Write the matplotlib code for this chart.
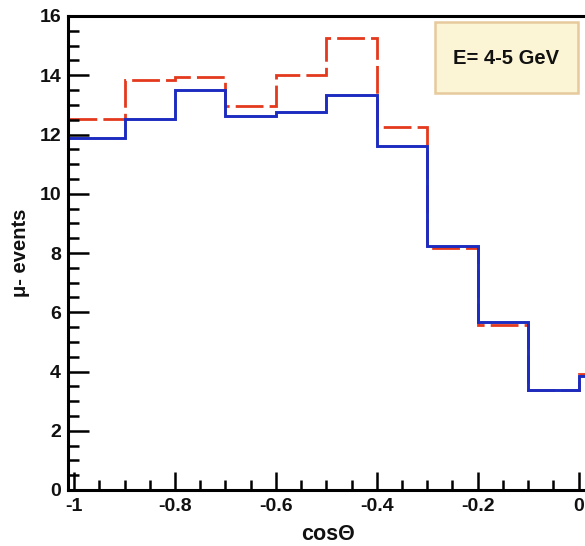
import matplotlib.pyplot as plt
from matplotlib.patches import Rectangle
from matplotlib.ticker import MultipleLocator

# bin edges in cos(theta), first bin drawn from the left axis edge
bin_edges = [-1.01, -0.9, -0.8, -0.7, -0.6, -0.5, -0.4, -0.3, -0.2, -0.1, 0.0, 0.1]
# mu- events per bin
red_counts = [12.53, 13.85, 13.93, 12.95, 14.02, 15.26, 12.27, 8.18, 5.57, 3.38, 3.92]
blue_counts = [11.89, 12.52, 13.51, 12.61, 12.77, 13.34, 11.62, 8.23, 5.66, 3.36, 3.86]

plt.rcParams['font.family'] = ['Liberation Sans', 'DejaVu Sans']

W, H = 585, 546
fig = plt.figure(figsize=(W / 100, H / 100), dpi=100)
ax = fig.add_axes([68 / W, 56 / H, 561 / W, 474 / H])

ax.stairs(red_counts, bin_edges, color='#e3391d', lw=2.0, ls=(0, (10, 2.2)), baseline=None)
ax.stairs(blue_counts, bin_edges, color='#1c2cc0', lw=2.1, baseline=None)

ax.set_xlim(-1.012, 0.1)
ax.set_ylim(0, 16)

ax.xaxis.set_minor_locator(MultipleLocator(0.05))
ax.yaxis.set_major_locator(MultipleLocator(2))
ax.yaxis.set_minor_locator(MultipleLocator(0.5))
ax.set_xticks([-1, -0.8, -0.6, -0.4, -0.2, 0])
ax.set_xticklabels(['-1', '-0.8', '-0.6', '-0.4', '-0.2', '0'])

ax.tick_params(axis='both', which='both', direction='in', top=False, right=False,
               labelsize=14, width=1.8, labelcolor='#111111')
ax.tick_params(axis='y', which='major', length=15, pad=5)
ax.tick_params(axis='y', which='minor', length=8)
ax.tick_params(axis='x', which='major', length=13, pad=6)
ax.tick_params(axis='x', which='minor', length=7)
for lab in ax.get_xticklabels() + ax.get_yticklabels():
    lab.set_fontweight('bold')

for side in ['left', 'bottom', 'top']:
    ax.spines[side].set_linewidth(2.2)
ax.spines['right'].set_visible(False)

fig.text(20 / W, 1 - 253 / H, 'μ- events', fontsize=14.5, fontweight='bold',
         rotation=90, ha='center', va='center', color='#111111')
fig.text(328 / W, 1 - 535 / H, 'cosΘ', fontsize=15.5, fontweight='bold',
         ha='center', va='center', color='#111111')

# energy box
fig.patches.append(Rectangle((435 / W, 1 - 93 / H), 143 / W, 71 / H,
                             transform=fig.transFigure, facecolor='#fbf5d6',
                             edgecolor='#e6c99c', lw=1.8))
fig.text(506 / W, 1 - 58 / H, 'E= 4-5 GeV', fontsize=14.5, fontweight='bold',
         ha='center', va='center', color='#111111')

fig.savefig('out.png', dpi=100)
